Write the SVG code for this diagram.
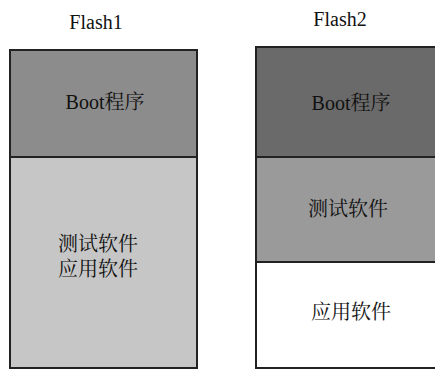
<svg xmlns="http://www.w3.org/2000/svg" width="435" height="370" viewBox="0 0 435 370">
<style>
.t{font-family:"Liberation Serif","Noto Serif CJK SC","Noto Sans CJK SC",serif;font-size:20px;fill:#111;text-anchor:middle}
.h{font-family:"Liberation Serif",serif;font-size:20px;fill:#111;text-anchor:middle}
.b{stroke:#222;stroke-width:2}
</style>
<rect width="435" height="370" fill="#fff"/>
<g id="flash1">
<text class="h" x="96" y="29">Flash1</text>
<rect class="b" x="10" y="50" width="187" height="107" fill="#8c8c8c"/>
<rect class="b" x="10" y="157" width="187" height="211" fill="#c6c6c6"/>
<text class="t" x="105" y="109">Boot程序</text>
<text class="t" x="98" y="251">测试软件</text>
<text class="t" x="98" y="276">应用软件</text>
</g>
<g id="flash2">
<text class="h" x="340" y="26">Flash2</text>
<rect class="b" x="256" y="47" width="190" height="110" fill="#6a6a6a"/>
<rect class="b" x="256" y="157" width="190" height="105" fill="#9a9a9a"/>
<rect class="b" x="256" y="262" width="190" height="106" fill="#fff"/>
<text class="t" x="351" y="110">Boot程序</text>
<text class="t" x="348" y="216">测试软件</text>
<text class="t" x="351" y="319">应用软件</text>
</g>
</svg>
